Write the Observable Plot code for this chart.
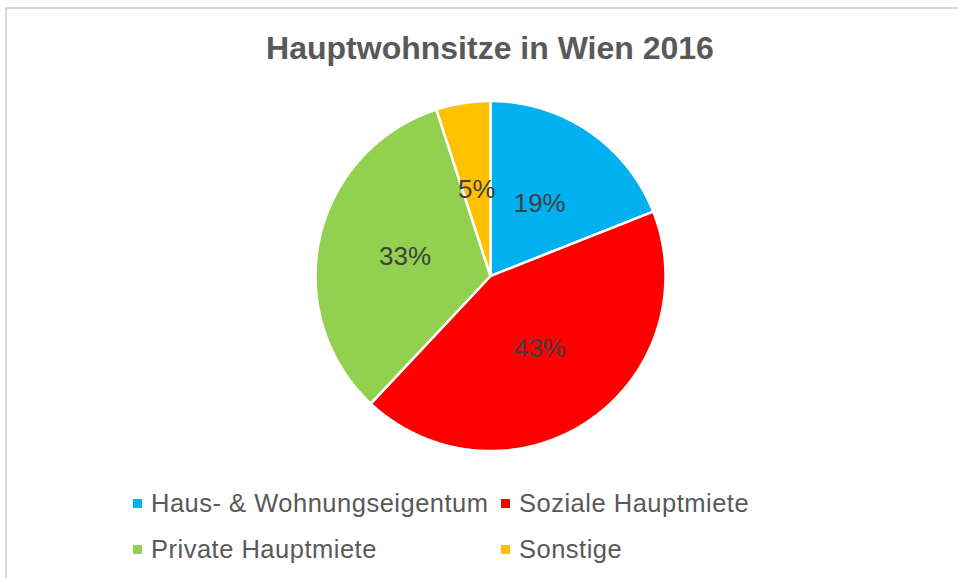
<!DOCTYPE html>
<html>
<head>
<meta charset="utf-8">
<script src="https://cdn.jsdelivr.net/npm/d3@7"></script>
<script src="https://cdn.jsdelivr.net/npm/@observablehq/plot@0.6"></script>
<style>
  html, body { margin: 0; padding: 0; background: #fff; }
  #wrap { position: relative; width: 958px; height: 578px; overflow: hidden; font-family: "Liberation Sans", Arial, sans-serif; }
  #frame { position: absolute; left: 5px; top: 7px; width: 960px; height: 600px; border-left: 2px solid #d9d9d9; border-top: 2px solid #d9d9d9; box-sizing: border-box; }
  #title { position: absolute; left: 0; width: 980px; top: 29px; text-align: center; font-weight: bold; font-size: 32px; color: #595959; line-height: 38px; }
  #chart { position: absolute; left: 0; top: 88px; }
  #legend { position: absolute; left: 133px; top: 487px; display: grid; grid-template-columns: 368px auto; row-gap: 14px; font-size: 25.5px; letter-spacing: 0.5px; color: #595959; line-height: 32px; }
  .item { display: flex; align-items: center; white-space: nowrap; }
  .sw { width: 9px; height: 9px; margin-right: 9px; flex: none; }
</style>
</head>
<body>
<div id="wrap">
  <div id="frame"></div>
  <div id="title"></div>
  <div id="chart"></div>
  <div id="legend"></div>
</div>
<script>
const titleText = "Hauptwohnsitze in Wien 2016";
const categories = ["Haus- & Wohnungseigentum", "Soziale Hauptmiete", "Private Hauptmiete", "Sonstige"];
const values = [19, 43, 33, 5];
const colors = ["#00B0F0", "#FF0000", "#92D050", "#FFC000"];

document.getElementById("title").textContent = titleText;

const W = 958, H = 375, cx = 490, cy = 187.5, R = 175;
const total = d3.sum(values);
let acc = 0;
const slices = values.map((v, i) => {
  const a0 = acc / total * 2 * Math.PI;
  acc += v;
  const a1 = acc / total * 2 * Math.PI;
  return {cat: categories[i], value: v, a0, a1};
});

const outline = [];
for (const s of slices) {
  outline.push({cat: s.cat, x: 0, y: 0});
  const n = Math.max(2, Math.ceil((s.a1 - s.a0) / (Math.PI / 360)));
  for (let k = 0; k <= n; k++) {
    const a = s.a0 + (s.a1 - s.a0) * k / n;
    outline.push({cat: s.cat, x: Math.sin(a), y: Math.cos(a)});
  }
}
const labels = slices.map(s => {
  const m = (s.a0 + s.a1) / 2;
  return {cat: s.cat, x: 0.5 * Math.sin(m), y: 0.5 * Math.cos(m), text: s.value + "%"};
});

const plot = Plot.plot({
  width: W, height: H,
  margin: 0,
  x: {domain: [-cx / R, (W - cx) / R], range: [0, W], axis: null},
  y: {domain: [-(H - cy) / R, cy / R], range: [H, 0], axis: null},
  color: {domain: categories, range: colors},
  style: {fontFamily: "'Liberation Sans', Arial, sans-serif", background: "transparent"},
  marks: [
    Plot.line(outline, {x: "x", y: "y", z: "cat", fill: "cat", stroke: "white", strokeWidth: 2.5, strokeLinejoin: "miter", curve: "linear-closed"}),
    Plot.text(labels, {x: "x", y: "y", text: "text", fill: "#404040", fontSize: 26})
  ]
});
document.getElementById("chart").appendChild(plot);

const legend = document.getElementById("legend");
categories.forEach((c, i) => {
  const it = document.createElement("div");
  it.className = "item";
  const sw = document.createElement("span");
  sw.className = "sw";
  sw.style.background = colors[i];
  const tx = document.createElement("span");
  tx.textContent = c;
  it.appendChild(sw); it.appendChild(tx);
  legend.appendChild(it);
});
</script>
</body>
</html>
